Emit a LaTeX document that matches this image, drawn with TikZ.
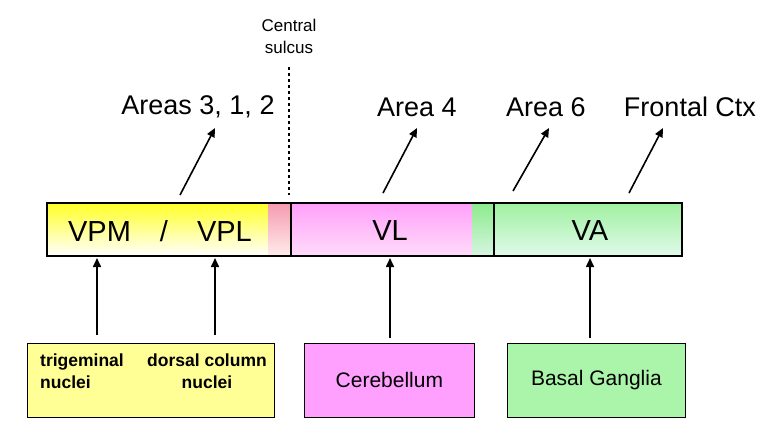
\documentclass[tikz,border=0pt]{standalone}
\usepackage{fontspec}
\setmainfont{Liberation Sans}
\usetikzlibrary{arrows.meta}
\begin{document}
\begin{tikzpicture}[x=1pt,y=-1pt,
  arr/.style={line width=1.6pt,-{Triangle[length=9pt,width=8pt]}},
  big/.style={font=\fontsize{27}{30}\selectfont},
  mid/.style={font=\fontsize{29}{30}\selectfont},
  box/.style={draw,line width=0.8pt,inner sep=0pt},
  src/.style={font=\fontsize{17.5}{22}\selectfont\bfseries}]
\useasboundingbox (0,0) rectangle (773,442);
% bar fills
\shade[top color=yellow!85, bottom color=white] (47,203) rectangle (268,256);
\shade[top color={rgb,255:red,245;green,155;blue,175}, bottom color=pink!30] (268,203) rectangle (291,256);
\shade[top color={rgb,255:red,255;green,160;blue,250}, bottom color={rgb,255:red,255;green,220;blue,250}] (291,203) rectangle (472,256);
\shade[top color={rgb,255:red,140;green,235;blue,140}, bottom color={rgb,255:red,215;green,245;blue,225}] (472,203) rectangle (494,256);
\shade[top color={rgb,255:red,160;green,240;blue,160}, bottom color={rgb,255:red,225;green,250;blue,235}] (494,203) rectangle (682,256);
\draw[line width=1.6pt] (47,203) rectangle (682,256);
\draw[line width=1.6pt] (291,203) -- (291,256) (494,203) -- (494,256);
\node[mid] (vpm) at (160,231) {VPM\quad/\quad VPL};
\node[mid] (vl) at (390,231) {VL};
\node[mid] (va) at (590,231) {VA};
\coordinate (b1) at (97,258); \coordinate (b2) at (215,258);
\coordinate (b3) at (390,258); \coordinate (b4) at (590,258);
% top labels
\node[big] (a312) at (198,107) {Areas 3, 1, 2};
\node[big] (a4) at (417,107) {Area 4};
\node[big] (a6) at (546,107) {Area 6};
\node[big] (fc) at (690,107) {Frontal Ctx};
\coordinate (t1) at (180,195); \coordinate (t2) at (383,193);
\coordinate (t3) at (513,191); \coordinate (t4) at (629,193);
\draw[arr] (t1) -- (215,128);
\draw[arr] (t2) -- (417,128);
\draw[arr] (t3) -- (549,128);
\draw[arr] (t4) -- (663,128);
% central sulcus
\node[font=\fontsize{17}{22}\selectfont,align=center] (cs) at (289,36) {Central\\sulcus};
\draw[dashed,line width=1.3pt] (289,67) -- (289,195);
% bottom boxes
\node[box,fill={rgb,255:red,255;green,255;blue,150},minimum width=247pt,minimum height=74pt,anchor=north west] (yb) at (27,343) {};
\node[src,align=left] (tri) at (82,371) {trigeminal\\nuclei};
\node[src,align=center] (dcn) at (207,371) {dorsal column\\nuclei};
\node[box,fill={rgb,255:red,255;green,160;blue,255},minimum width=170pt,minimum height=74pt,anchor=north west,font=\fontsize{21}{24}\selectfont] (cb) at (304,343) {Cerebellum};
\node[box,fill={rgb,255:red,170;green,245;blue,170},minimum width=178pt,minimum height=74pt,anchor=north west,font=\fontsize{21}{24}\selectfont] (bg) at (507,343) {Basal Ganglia};
\coordinate (s1) at (97,335); \coordinate (s2) at (215,335);
\coordinate (s3) at (390,338); \coordinate (s4) at (590,338);
\draw[arr] (s1) -- (b1);
\draw[arr] (s2) -- (b2);
\draw[arr] (s3) -- (b3);
\draw[arr] (s4) -- (b4);
\end{tikzpicture}
\end{document}
